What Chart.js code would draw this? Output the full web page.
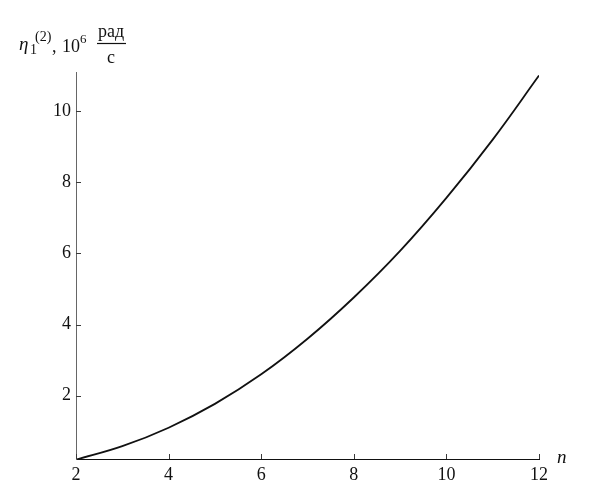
<!DOCTYPE html>
<html>
<head>
<meta charset="utf-8">
<script src="https://cdn.jsdelivr.net/npm/chart.js@4.4.1/dist/chart.umd.min.js"></script>
<style>
  html, body { margin: 0; padding: 0; background: #fff; }
  #wrap { width: 594px; height: 492px; }
</style>
</head>
<body>
<div id="wrap"><canvas id="chart" width="594" height="492"></canvas></div>
<script>
// values
const nValues = [2, 3, 4, 5, 6, 7, 8, 9, 10, 11, 12];
const omegaValues = [0.2, 0.58, 1.1, 1.77, 2.6, 3.6, 4.76, 6.07, 7.56, 9.2, 11.0];
const xTicks = [2, 4, 6, 8, 10, 12];
const yTicks = [2, 4, 6, 8, 10];

const serif = "'Liberation Serif', 'Times New Roman', serif";
const axisColor = "#3a3a3a";

// inward tick marks + axis labels
const decorations = {
  id: "decorations",
  afterDraw(chart) {
    const ctx = chart.ctx;
    const x = chart.scales.x;
    const y = chart.scales.y;
    const area = chart.chartArea;

    ctx.save();
    ctx.strokeStyle = axisColor;
    ctx.lineWidth = 1;
    ctx.beginPath();
    xTicks.forEach(v => {
      const px = Math.round(x.getPixelForValue(v)) + 0.5;
      ctx.moveTo(px, area.bottom);
      ctx.lineTo(px, area.bottom - 5);
    });
    yTicks.forEach(v => {
      const py = Math.round(y.getPixelForValue(v)) + 0.5;
      ctx.moveTo(area.left, py);
      ctx.lineTo(area.left + 5, py);
    });
    ctx.stroke();

    ctx.fillStyle = "#111";
    ctx.textBaseline = "alphabetic";
    ctx.textAlign = "left";

    // y axis title: η1(2), 10^6 рад/с
    ctx.font = "italic 19px " + serif;
    ctx.fillText("η", 19, 50);
    ctx.font = "14px " + serif;
    ctx.fillText("1", 30, 54);
    ctx.fillText("(2)", 35, 41);
    ctx.font = "18px " + serif;
    ctx.fillText(",", 52, 52);
    ctx.fillText("10", 62, 52);
    ctx.font = "13px " + serif;
    ctx.fillText("6", 80, 43);

    ctx.font = "18px " + serif;
    ctx.textAlign = "center";
    ctx.fillText("рад", 111, 37);
    ctx.fillText("с", 111, 63);
    ctx.beginPath();
    ctx.lineWidth = 1.2;
    ctx.strokeStyle = "#111";
    ctx.moveTo(97, 43.5);
    ctx.lineTo(126, 43.5);
    ctx.stroke();

    // x axis title
    ctx.textAlign = "left";
    ctx.font = "italic 19px " + serif;
    ctx.fillText("n", 557, 463);
    ctx.restore();
  }
};

new Chart(document.getElementById("chart"), {
  type: "line",
  data: {
    labels: nValues,
    datasets: [{
      data: nValues.map((n, i) => ({ x: n, y: omegaValues[i] })),
      borderColor: "#111",
      borderWidth: 1.8,
      pointRadius: 0,
      fill: false,
      tension: 0.4
    }]
  },
  options: {
    responsive: false,
    animation: false,
    devicePixelRatio: 1,
    layout: { padding: { left: 0, top: 72, right: 55, bottom: 0 } },
    plugins: { legend: { display: false }, tooltip: { enabled: false } },
    scales: {
      x: {
        type: "linear",
        min: 2,
        max: 12,
        grid: { display: false, drawTicks: false },
        border: { display: true, color: "#111", width: 1 },
        afterBuildTicks: s => { s.ticks = xTicks.map(v => ({ value: v })); },
        afterFit: s => { s.height = 33; },
        ticks: {
          color: "#111",
          padding: 5,
          maxRotation: 0,
          font: { family: serif, size: 18 }
        }
      },
      y: {
        min: 0.22,
        max: 11.1,
        grid: { display: false, drawTicks: false },
        border: { display: true, color: "#666", width: 1 },
        afterBuildTicks: s => { s.ticks = yTicks.map(v => ({ value: v })); },
        afterFit: s => { s.width = 76; },
        ticks: {
          color: "#111",
          padding: 5,
          font: { family: serif, size: 18 }
        }
      }
    }
  },
  plugins: [decorations]
});
</script>
</body>
</html>
